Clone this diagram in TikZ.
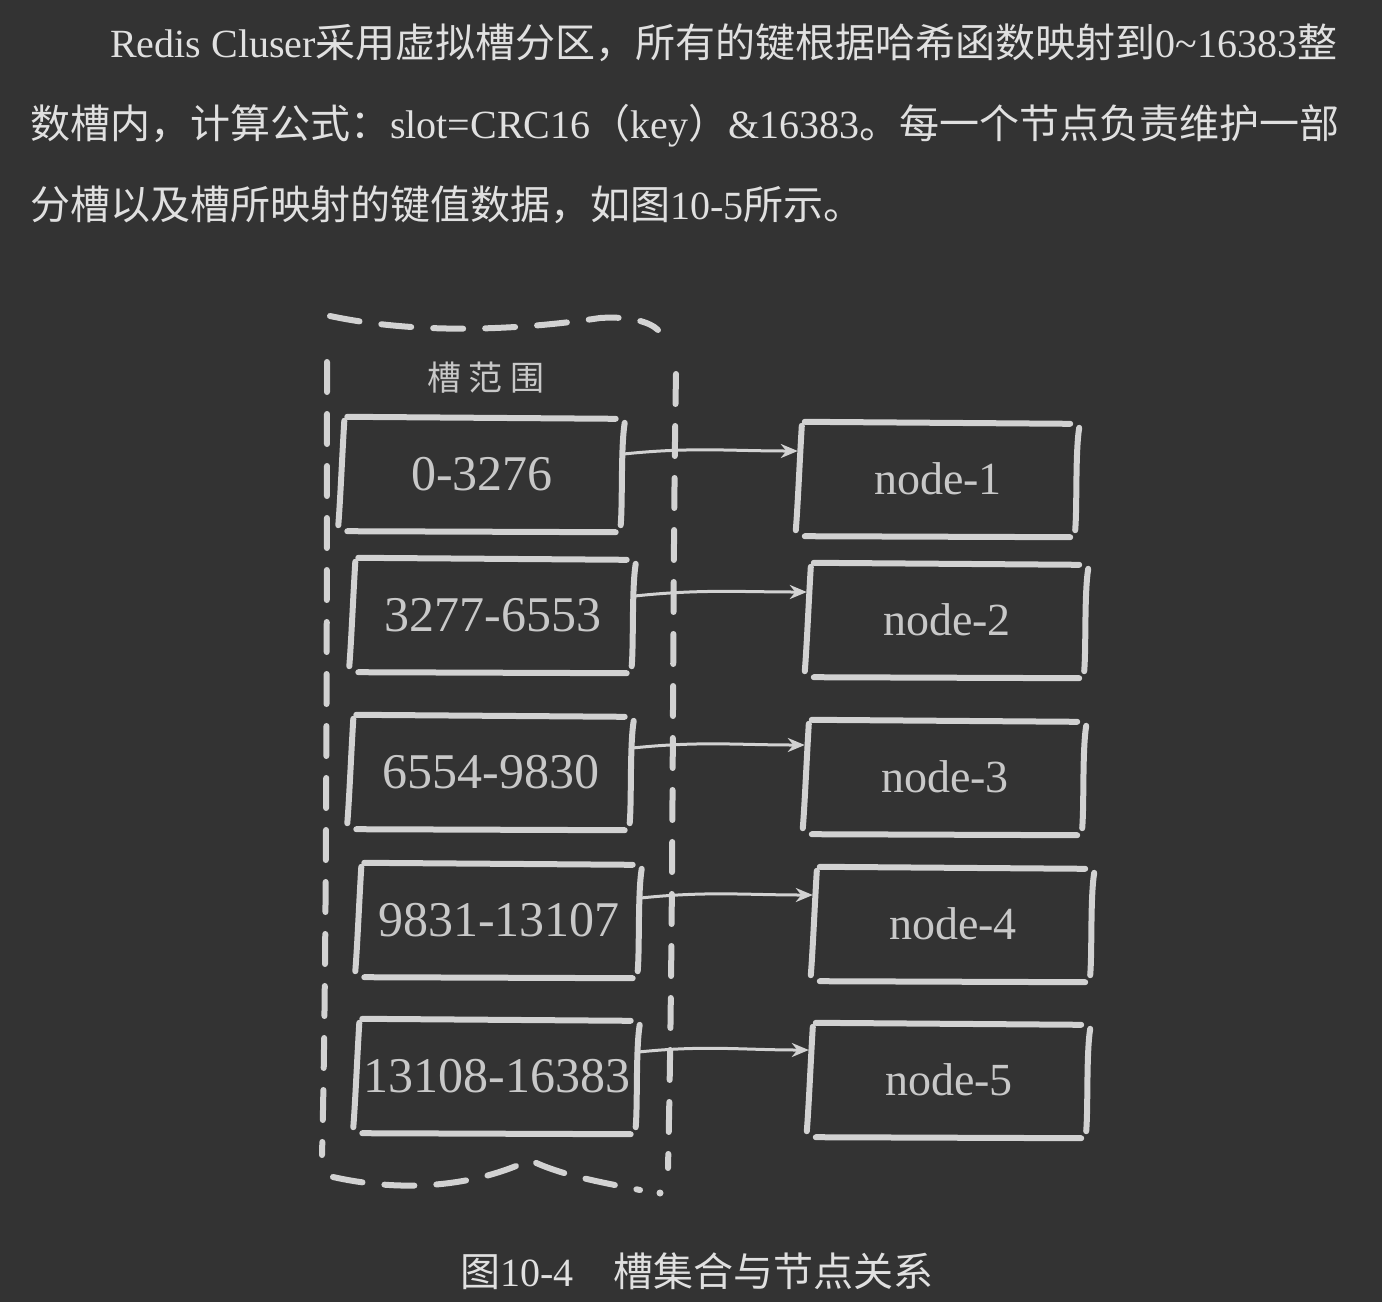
\documentclass[tikz,border=0pt]{standalone}
\usepackage{fontspec}
\setmainfont{Liberation Serif}
\newfontfamily\cjk{Noto Sans CJK SC}
\usetikzlibrary{arrows.meta}
\definecolor{bgc}{HTML}{333333}
\definecolor{txtc}{HTML}{E0E0E0}
\definecolor{inkc}{HTML}{D2D2D2}
\definecolor{labc}{HTML}{C8C8C8}
\tikzset{
  boxline/.style={draw=inkc,line width=6pt,line cap=round},
  dashline/.style={draw=inkc,line width=6pt,line cap=round,dash pattern=on 30pt off 22pt},
  arr/.style={draw=inkc,line width=3pt,-{Stealth[length=17pt,width=14pt]}},
  slotbox/.style={minimum width=283pt,minimum height=112pt,inner sep=0pt,text=labc,font=\fontsize{50}{56}\selectfont},
  nodebox/.style={minimum width=280pt,minimum height=112pt,inner sep=0pt,text=labc,font=\fontsize{46}{52}\selectfont},
  para/.style={anchor=base west,inner sep=0pt,text=txtc,font=\fontsize{40}{48}\selectfont}
}
\newcommand\sketchbox[1]{%
  \draw[boxline] ([shift={(7pt,1pt)}]#1.north west) -- ([shift={(-8pt,-1pt)}]#1.north east);
  \draw[boxline] ([shift={(1pt,-5pt)}]#1.north east) .. controls ([shift={(-3pt,-30pt)}]#1.north east) and ([shift={(-1pt,30pt)}]#1.south east) .. ([shift={(-3pt,5pt)}]#1.south east);
  \draw[boxline] ([shift={(7pt,-1pt)}]#1.south west) -- ([shift={(-8pt,-2pt)}]#1.south east);
  \draw[boxline] ([shift={(4pt,-3pt)}]#1.north west) .. controls ([shift={(2pt,-35pt)}]#1.north west) and ([shift={(0pt,30pt)}]#1.south west) .. ([shift={(-2pt,5pt)}]#1.south west);
}
\begin{document}
\begin{tikzpicture}[x=1pt,y=-1pt]
\fill[bgc] (0,0) rectangle (1382,1302);
\useasboundingbox (0,0) rectangle (1382,1302);

% paragraph
\node[para] (p1) at (110,57) {Redis Cluser{\cjk 采用虚拟槽分区，所有的键根据哈希函数映射到}0\char"007E 16383{\cjk 整}};
\node[para] (p2) at (30,138) {{\cjk 数槽内，计算公式：}slot=CRC16{\cjk （}key{\cjk ）}\&16383{\cjk 。每一个节点负责维护一部}};
\node[para] (p3) at (30,219) {{\cjk 分槽以及槽所映射的键值数据，如图}10-5{\cjk 所示。}};

% dashed enclosure
\draw[dashline] (330,316) .. controls (420,335) and (520,330) .. (600,318) .. controls (630,316) and (650,322) .. (658,330);
\draw[dashline] (676,374) .. controls (672,600) and (674,900) .. (668,1168);
\draw[dashline] (327,362) .. controls (327,700) and (326,1000) .. (322,1155);
\draw[dashline] (333,1177) .. controls (400,1192) and (470,1188) .. (530,1160) .. controls (560,1175) and (600,1182) .. (640,1190);
\fill[inkc] (660,1193) circle (3.5pt);

\node[text=labc,font=\cjk\fontsize{34}{40}\selectfont] (lab) at (486,378) {槽\kern8pt 范\kern8pt 围};

% slot boxes
\node[slotbox] (s1) at (482,474) {0-3276};
\node[slotbox] (s2) at (493,615) {3277-6553};
\node[slotbox] (s3) at (491,772) {6554-9830};
\node[slotbox] (s4) at (499,920) {9831-13107};
\node[slotbox] (s5) at (497,1076) {13108-16383};
% node boxes
\node[nodebox] (n1) at (938,479) {node-1};
\node[nodebox] (n2) at (947,620) {node-2};
\node[nodebox] (n3) at (945,777) {node-3};
\node[nodebox] (n4) at (953,924) {node-4};
\node[nodebox] (n5) at (949,1080) {node-5};

\foreach \b in {s1,s2,s3,s4,s5,n1,n2,n3,n4,n5} {\sketchbox{\b}}

% arrows
\draw[arr] ([yshift=20pt]s1.east) to[out=6,in=180] ([yshift=28pt]n1.west);
\draw[arr] ([yshift=19pt]s2.east) to[out=6,in=180] ([yshift=28pt]n2.west);
\draw[arr] ([yshift=24pt]s3.east) to[out=6,in=180] ([yshift=32pt]n3.west);
\draw[arr] ([yshift=22pt]s4.east) to[out=6,in=180] ([yshift=29pt]n4.west);
\draw[arr] ([yshift=24pt]s5.east) to[out=6,in=180] ([yshift=30pt]n5.west);

% caption
\node[para] (cap) at (460,1286) {{\cjk 图}10-4{\cjk 　槽集合与节点关系}};
\end{tikzpicture}
\end{document}
